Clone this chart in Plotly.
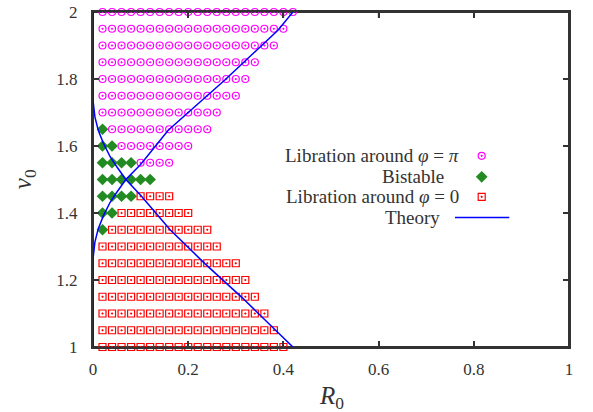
import plotly.graph_objects as go

# ---------------- data ----------------
nu_rows = [1.00, 1.05, 1.10, 1.15, 1.20, 1.25, 1.30, 1.35, 1.40, 1.45, 1.50,
           1.55, 1.60, 1.65, 1.70, 1.75, 1.80, 1.85, 1.90, 1.95, 2.00]
R_grid = [0.02, 0.04, 0.06, 0.08, 0.10, 0.12, 0.14, 0.16, 0.18, 0.20, 0.22,
          0.24, 0.26, 0.28, 0.30, 0.32, 0.34, 0.36, 0.38, 0.40, 0.42]
# number of bistable points (from the left) and total points in each row
n_bistable = [0, 0, 0, 0, 0, 0, 0, 1, 2, 4, 6, 4, 2, 1, 0, 0, 0, 0, 0, 0, 0]
n_total = [20, 19, 18, 17, 16, 15, 13, 12, 10, 8, 6, 8, 10, 12, 13, 15, 16, 17, 19, 20, 21]

theory_A_R = [0.0, 0.0, 0.004, 0.011, 0.022, 0.036, 0.050, 0.069, 0.100, 0.162, 0.235, 0.312, 0.420]
theory_A_nu = [2.0, 1.737, 1.687, 1.647, 1.608, 1.568, 1.538, 1.500, 1.453, 1.350, 1.249, 1.149, 1.000]
theory_B_R = [0.0, 0.0, 0.004, 0.011, 0.022, 0.036, 0.050, 0.069, 0.100, 0.158, 0.277, 0.389, 0.420]
theory_B_nu = [1.0, 1.263, 1.313, 1.353, 1.392, 1.432, 1.462, 1.500, 1.545, 1.647, 1.797, 1.946, 2.000]

x_ticks = [0, 0.2, 0.4, 0.6, 0.8, 1]
x_ticklabels = ["0", "0.2", "0.4", "0.6", "0.8", "1"]
y_ticks = [1, 1.2, 1.4, 1.6, 1.8, 2]
y_ticklabels = ["1", "1.2", "1.4", "1.6", "1.8", "2"]

legend_labels = ["Libration around <i>φ</i> = <i>π</i>", "Bistable",
                 "Libration around <i>φ</i> = 0", "Theory"]

# ---------------- build point sets ----------------
pi_R, pi_nu, bi_R, bi_nu, zero_R, zero_nu = [], [], [], [], [], []
for nu, nb, nt in zip(nu_rows, n_bistable, n_total):
    bi_R += R_grid[:nb]
    bi_nu += [nu] * nb
    rest = R_grid[nb:nt]
    if nu > 1.5:
        pi_R += rest
        pi_nu += [nu] * len(rest)
    elif nu < 1.5:
        zero_R += rest
        zero_nu += [nu] * len(rest)

MAG = "#ff00ff"
GRN = "#228b22"
RED = "#ff0000"
BLU = "#0000ff"
AX = "#333333"
FONT = "Liberation Serif"

CIRC = dict(symbol="circle-open-dot", size=7, color=MAG, line=dict(color=MAG, width=1.2))
DIAM = dict(symbol="diamond", size=9, color=GRN, line=dict(width=0))
SQR = dict(symbol="square-open-dot", size=7, color=RED, line=dict(color=RED, width=1.2))

fig = go.Figure()
fig.add_trace(go.Scatter(x=pi_R, y=pi_nu, mode="markers", cliponaxis=False, marker=CIRC))
fig.add_trace(go.Scatter(x=bi_R, y=bi_nu, mode="markers", cliponaxis=False, marker=DIAM))
fig.add_trace(go.Scatter(x=zero_R, y=zero_nu, mode="markers", cliponaxis=False, marker=SQR))
fig.add_trace(go.Scatter(x=theory_A_R, y=theory_A_nu, mode="lines", cliponaxis=False,
                         line=dict(color=BLU, width=1.5)))
fig.add_trace(go.Scatter(x=theory_B_R, y=theory_B_nu, mode="lines", cliponaxis=False,
                         line=dict(color=BLU, width=1.5)))

# ---------------- geometry (window pixels) ----------------
W, H = 593, 412
L, R_, T, B = 93, 569, 12, 346.7
def fx(px): return (px - L) / (R_ - L)
def fy(py): return (B - py) / (B - T)

# ---------------- frame and mirrored ticks (top / right) ----------------
fig.add_shape(type="rect", xref="paper", yref="paper", x0=0, x1=1, y0=0, y1=1,
              line=dict(color=AX, width=2), layer="below")
TL = 6
for xv in x_ticks[1:-1]:
    fig.add_shape(type="line", xref="x", yref="paper", x0=xv, x1=xv, y0=1, y1=1 - TL / (B - T),
                  line=dict(color=AX, width=1.5))
for yv in y_ticks[1:-1]:
    fig.add_shape(type="line", xref="paper", yref="y", x0=1, x1=1 - TL / (R_ - L), y0=yv, y1=yv,
                  line=dict(color=AX, width=1.5))

# ---------------- manual legend (text right-aligned, keys on the right) ----------------
row_y = [155.7, 176.7, 196.7, 217.3]
text_right = [461, 446, 461, 442]
for lab, py, pr in zip(legend_labels, row_y, text_right):
    fig.add_annotation(xref="paper", yref="paper", x=fx(pr), y=fy(py),
                       text=lab, showarrow=False, xanchor="right", yanchor="middle",
                       font=dict(family=FONT, size=19, color=AX))

key_x = fx(481.7)
fig.add_trace(go.Scatter(x=[key_x], y=[fy(row_y[0])], xaxis="x2", yaxis="y2", mode="markers", marker=CIRC))
fig.add_trace(go.Scatter(x=[key_x], y=[fy(row_y[1])], xaxis="x2", yaxis="y2", mode="markers", marker=DIAM))
fig.add_trace(go.Scatter(x=[key_x], y=[fy(row_y[2])], xaxis="x2", yaxis="y2", mode="markers", marker=SQR))
fig.add_shape(type="line", xref="paper", yref="paper", x0=fx(455), x1=fx(509.3),
              y0=fy(row_y[3]), y1=fy(row_y[3]), line=dict(color=BLU, width=1.5))

# axis titles
fig.add_annotation(xref="paper", yref="paper", x=fx(331), y=fy(397), text="<i>R</i><sub>0</sub>",
                   showarrow=False, xanchor="center", yanchor="middle",
                   font=dict(family=FONT, size=25, color=AX))
fig.add_annotation(xref="paper", yref="paper", x=fx(24), y=fy(179), text="<i>ν</i><sub>0</sub>",
                   showarrow=False, xanchor="center", yanchor="middle", textangle=-90,
                   font=dict(family=FONT, size=25, color=AX))

axis_common = dict(showgrid=False, zeroline=False, showline=True, linecolor=AX, linewidth=2,
                   mirror="ticks", ticks="inside", ticklen=TL, tickwidth=1.5, tickcolor=AX,
                   automargin=False,
                   tickfont=dict(family=FONT, size=17, color=AX))
fig.update_layout(
    width=W, height=H,
    margin=dict(l=L, r=W - R_, t=T, b=H - B, pad=0, autoexpand=False),
    paper_bgcolor="white", plot_bgcolor="white",
    showlegend=False,
    xaxis=dict(range=[0, 1], tickvals=x_ticks, ticktext=x_ticklabels, ticklabelstandoff=6, **axis_common),
    yaxis=dict(range=[1, 2], tickvals=y_ticks, ticktext=y_ticklabels, ticklabelstandoff=10, **axis_common),
    xaxis2=dict(domain=[0, 1], range=[0, 1], visible=False, anchor="y2", overlaying="x", automargin=False),
    yaxis2=dict(domain=[0, 1], range=[0, 1], visible=False, anchor="x2", overlaying="y", automargin=False),
)
fig.write_html("out.html", config={"displayModeBar": False},
               post_script="document.body.style.margin='0';document.body.style.padding='0';")
